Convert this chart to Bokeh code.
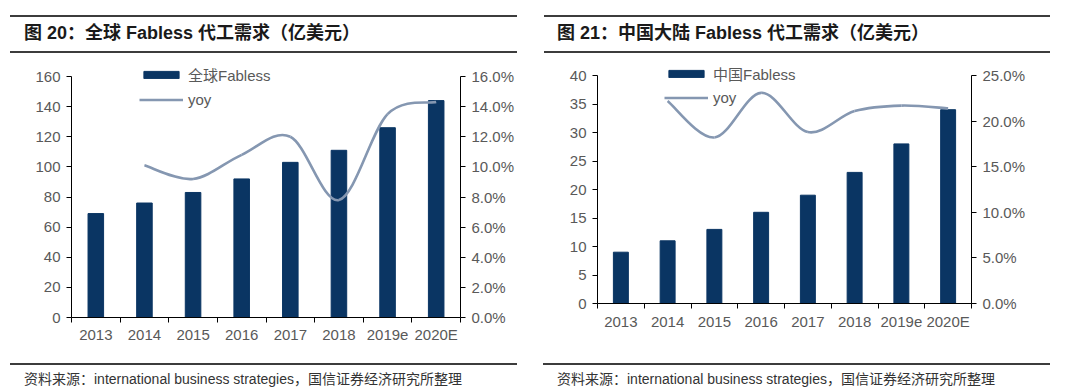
from bokeh.plotting import figure
from bokeh.models import (Range1d, LinearAxis, FixedTicker, NumeralTickFormatter,
                          Legend, LegendItem, Div, ColumnDataSource)
from bokeh.layouts import row, column
from bokeh.embed import file_html
from bokeh.resources import INLINE

# ---------------- data ----------------
years = ["2013", "2014", "2015", "2016", "2017", "2018", "2019e", "2020E"]

global_vals = [69, 76, 83, 92, 103, 111, 126, 144]
global_yoy = [None, 0.101, 0.092, 0.108, 0.120, 0.078, 0.135, 0.143]
global_left_ticks = [0, 20, 40, 60, 80, 100, 120, 140, 160]
global_right_ticks = [0.0, 0.02, 0.04, 0.06, 0.08, 0.10, 0.12, 0.14, 0.16]

china_vals = [9, 11, 13, 16, 19, 23, 28, 34]
china_yoy = [None, 0.222, 0.182, 0.231, 0.188, 0.211, 0.217, 0.214]
china_left_ticks = [0, 5, 10, 15, 20, 25, 30, 35, 40]
china_right_ticks = [0.0, 0.05, 0.10, 0.15, 0.20, 0.25]

title1 = "图 20：全球 Fabless 代工需求（亿美元）"
title2 = "图 21：中国大陆 Fabless 代工需求（亿美元）"
legend1 = "全球Fabless"
legend2 = "中国Fabless"
source_text = "资料来源：international business strategies，国信证券经济研究所整理"

BAR_COLOR = "#0a3563"
LINE_COLOR = "#8597b1"
TICK_COLOR = "#595959"
FONT = "Liberation Sans, Noto Sans CJK SC, sans-serif"
TICK_SIZE = "15px"


def smooth_segments(xs, ys):
    """Bezier control points (Catmull-Rom style smoothing, as a spreadsheet does)."""
    pts = [(x, y) for x, y in zip(xs, ys) if y is not None]
    n = len(pts)
    d = dict(x0=[], y0=[], x1=[], y1=[], cx0=[], cy0=[], cx1=[], cy1=[])
    for i in range(n - 1):
        p0 = pts[i - 1] if i > 0 else pts[i]
        p1 = pts[i]
        p2 = pts[i + 1]
        p3 = pts[i + 2] if i + 2 < n else pts[i + 1]
        d["x0"].append(p1[0]); d["y0"].append(p1[1])
        d["x1"].append(p2[0]); d["y1"].append(p2[1])
        d["cx0"].append(p1[0] + (p2[0] - p0[0]) / 6.0)
        d["cy0"].append(p1[1] + (p2[1] - p0[1]) / 6.0)
        d["cx1"].append(p2[0] - (p3[0] - p1[0]) / 6.0)
        d["cy1"].append(p2[1] - (p3[1] - p1[1]) / 6.0)
    return d


def style_axis(ax, standoff):
    ax.axis_line_color = "black"
    ax.major_tick_line_color = "black"
    ax.major_label_standoff = standoff
    ax.major_label_text_font = FONT
    ax.major_label_text_font_size = TICK_SIZE
    ax.major_label_text_color = TICK_COLOR


def make_panel(width, title_text, title_ml, title_w, title_pl,
               foot_ml, foot_w, foot_pl,
               vals, yoy, lticks, rticks, legend_label,
               mb_left, mb_right, mb_top, mb_bottom, axis_px, pad_px,
               standoff, legend_loc, legend_spacing):
    title_div = Div(
        text=(f'<div style="margin:7px 0 0 {title_ml}px;width:{title_w}px;height:38px;'
              f'box-sizing:border-box;border-top:2px solid #3c3c3c;border-bottom:2px solid #3c3c3c;'
              f'padding-left:{title_pl}px;font-weight:bold;font-size:18px;line-height:33px;'
              f"font-family:'Liberation Sans','Noto Sans CJK SC',sans-serif;color:#1a1a1a;"
              f'white-space:nowrap;">{title_text}</div>'),
        width=width, height=52, margin=(0, 0, 0, 0))

    idx = list(range(len(years)))
    # extra headroom above the top tick so the legend sits inside the frame
    lend = lticks[-1] + pad_px * (lticks[-1] - lticks[0]) / axis_px
    rend = rticks[-1] + pad_px * (rticks[-1] - rticks[0]) / axis_px
    p = figure(width=width, height=286, output_backend="svg", toolbar_location=None,
               x_range=Range1d(-0.5, len(years) - 0.5),
               y_range=Range1d(lticks[0], lend),
               min_border_left=mb_left, min_border_right=mb_right,
               min_border_top=mb_top, min_border_bottom=mb_bottom)
    p.extra_y_ranges = {"yoy": Range1d(rticks[0], rend)}
    p.outline_line_color = None
    p.xgrid.visible = False
    p.ygrid.visible = False
    p.background_fill_color = "white"
    p.border_fill_color = "white"

    src = ColumnDataSource(dict(x=idx, top=vals))
    bars = p.vbar(x="x", top="top", width=0.32, source=src,
                  fill_color=BAR_COLOR, line_color=BAR_COLOR)

    seg = smooth_segments(idx, yoy)
    bez = p.bezier(x0="x0", y0="y0", x1="x1", y1="y1", cx0="cx0", cy0="cy0",
                   cx1="cx1", cy1="cy1", source=ColumnDataSource(seg),
                   line_color=LINE_COLOR, line_width=2.6, y_range_name="yoy")

    # x axis: labels at category centres, ticks on category boundaries
    xa = p.xaxis[0]
    xa.ticker = FixedTicker(ticks=idx, minor_ticks=[i - 0.5 for i in range(len(years) + 1)])
    xa.major_label_overrides = {i: y for i, y in zip(idx, years)}
    xa.major_tick_out = 0
    xa.major_tick_in = 0
    xa.minor_tick_out = 5
    xa.minor_tick_in = 0
    xa.minor_tick_line_color = "black"
    style_axis(xa, standoff)

    # left axis
    ya = p.yaxis[0]
    ya.ticker = FixedTicker(ticks=lticks)
    ya.bounds = (lticks[0], lticks[-1])
    ya.major_tick_out = 5
    ya.major_tick_in = 0
    ya.minor_tick_out = 0
    ya.minor_tick_in = 0
    style_axis(ya, 6)

    # right axis
    ra = LinearAxis(y_range_name="yoy", ticker=FixedTicker(ticks=rticks),
                    formatter=NumeralTickFormatter(format="0.0%"),
                    bounds=(rticks[0], rticks[-1]))
    ra.major_tick_out = 5
    ra.major_tick_in = 0
    ra.minor_tick_out = 0
    ra.minor_tick_in = 0
    style_axis(ra, 6)
    p.add_layout(ra, "right")

    leg = Legend(items=[LegendItem(label=legend_label, renderers=[bars]),
                        LegendItem(label="yoy", renderers=[bez])],
                 location=legend_loc, orientation="vertical",
                 glyph_width=44, glyph_height=9, label_height=18,
                 spacing=legend_spacing, padding=0, margin=0, label_standoff=5,
                 background_fill_alpha=0, border_line_alpha=0,
                 label_text_font=FONT, label_text_font_size=TICK_SIZE,
                 label_text_color=TICK_COLOR)
    p.add_layout(leg)

    foot_div = Div(
        text=(f'<div style="margin:17px 0 0 {foot_ml}px;width:{foot_w}px;'
              f'border-top:2px solid #3c3c3c;padding:7px 0 0 {foot_pl}px;'
              f"font-size:14px;line-height:14px;font-family:'Liberation Sans','Noto Sans CJK SC',sans-serif;"
              f'color:#333333;white-space:nowrap;">{source_text}</div>'),
        width=width, height=40, margin=(0, 0, 0, 0))
    return column(title_div, p, foot_div, spacing=0)


left = make_panel(535, title1, 2, 507, 14, 2, 507, 14,
                  global_vals, global_yoy, global_left_ticks, global_right_ticks, legend1,
                  mb_left=63, mb_right=83, mb_top=4, mb_bottom=29, axis_px=241, pad_px=12,
                  standoff=3, legend_loc=(68, 209), legend_spacing=5)
right = make_panel(529, title2, 1, 506, 13, 0, 507, 14,
                   china_vals, china_yoy, china_left_ticks, china_right_ticks, legend2,
                   mb_left=54, mb_right=101, mb_top=3, mb_bottom=43, axis_px=228, pad_px=12,
                   standoff=4, legend_loc=(67, 197), legend_spacing=4)

layout = row(left, right, spacing=0, margin=(8, 0, 0, 8))
open("out.html", "w").write(file_html(layout, INLINE))
